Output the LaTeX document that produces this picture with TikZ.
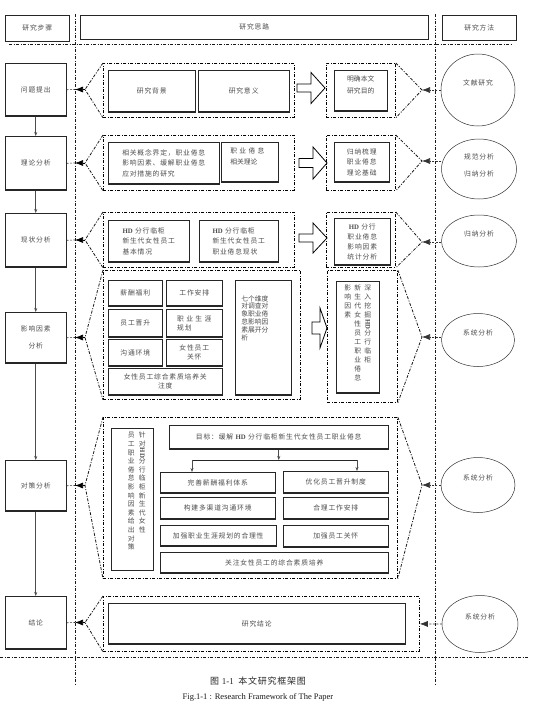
\documentclass[tikz,border=0pt]{standalone}
\usepackage{fontspec}
\usepackage{graphicx}
\setmainfont{Liberation Serif}
\newfontfamily\cjk[LetterSpace=12]{Noto Sans CJK SC}
\newfontfamily\capcjk[LetterSpace=8]{Noto Sans CJK SC}
\newfontfamily\hdfont{Liberation Serif}
\usetikzlibrary{arrows.meta}
\usetikzlibrary{shapes.geometric}
\XeTeXlinebreaklocale "zh"
\XeTeXlinebreakskip=0pt plus 1pt

\newcommand\hd{{\hdfont\bfseries HD}}
\newcommand\hdv{\rotatebox[origin=c]{-90}{\hd}}
\newcommand\vcol[1]{\parbox[t]{8pt}{\centering #1}}
\newcommand\topbox[4]{\parbox[c][#2pt][t]{#1pt}{\vspace*{#3pt}#4}}

\begin{document}
\begin{tikzpicture}[x=1pt, y=-1pt,
  font=\cjk\fontsize{6.8}{10.5}\selectfont, text=black!70,
  every node/.style={inner sep=1pt},
  wh/.style 2 args={anchor=north west, minimum width=#1, minimum height=#2},
  head/.style={draw=black!85, line width=0.6pt},
  cell/.style={draw=black!85, line width=0.5pt, path picture={
    \draw[black!85, line width=2.2pt]
      (path picture bounding box.north west) -- (path picture bounding box.north east)
      (path picture bounding box.south west) -- (path picture bounding box.south east);}},
  grp/.style={draw=black, line width=0.8pt, dash pattern=on 3pt off 1.5pt on 1pt off 1.5pt},
  sep/.style={black!90, line width=0.8pt, dash pattern=on 3pt off 1.5pt on 1pt off 1.5pt},
  method/.style={ellipse, draw=black!80, line width=0.5pt, text depth=14pt},
  tight/.style={font=\cjk\fontsize{6.8}{9}\selectfont},
  link/.style={black!80, line width=0.6pt, dash pattern=on 2pt off 1.5pt},
  tipl/.style={-{Latex[length=8pt,width=6pt]}, line width=0.6pt},
  down/.style={-{Stealth[length=4pt,width=3pt]}, black!70, line width=0.6pt},
  hollow/.style={draw=black, line width=0.8pt, fill=white}]

 \useasboundingbox (0,0) rectangle (542,704);

 % Separadores
 \draw[sep] (9,44) -- (512,44);
 \draw[sep] (75,14) -- (75,684);
 \draw[sep] (435,14) -- (435,684);
 \draw[sep] (0,657) -- (529,657);

 % Cabecera
 \node[head, wh={64}{26}] (h1) at (5,15) {研究步骤};
 \node[head, wh={348}{24}] (h2) at (80,15) {研究思路};
 \node[head, wh={74}{25}] (h3) at (442,15) {研究方法};

 % Pasos
 \node[cell, wh={61}{53}] (s1) at (5,63) {问题提出};
 \node[cell, wh={61}{54}] (s2) at (5,136) {理论分析};
 \node[cell, wh={61}{54}] (s3) at (5,213) {现状分析};
 \node[cell, wh={61}{51}, align=center, font=\cjk\fontsize{6.8}{17}\selectfont] (s4) at (5,312) {影响因素\\分析};
 \node[cell, wh={61}{51}] (s5) at (5,460) {对策分析};
 \node[cell, wh={61}{53}] (s6) at (5,596) {结论};
 \foreach \a/\b in {s1/s2, s2/s3, s3/s4, s4/s5, s5/s6}
  \draw[down] (\a) -- (\b);

 % Fila 1
 \node[grp, wh={191}{54}] (g1) at (103,63) {};
 \node[cell, wh={87}{42}] (bg) at (108,70) {研究背景};
 \node[cell, wh={91}{42}] (yy) at (198,70) {研究意\,义};
 \node[grp, wh={69}{54}] (g1r) at (326,63) {};
 \node[cell, wh={53}{41}, inner sep=0pt] (md) at (334,70) {\topbox{53}{41}{5}{\centering\baselineskip=12.8pt 明确本文\\研究目的\par}};
 \node[method, minimum width=74, minimum height=72] (e1) at (478,90) {文献研究};

 % Fila 2
 \node[grp, wh={191}{55}] (g2) at (103,135) {};
 \node[cell, wh={111}{42}, align=left] (xg) at (108,142) {相关概念界定，职业倦怠\\影响因素、缓解职业倦怠\\应对措施的研究};
 \node[cell, wh={57}{40}, inner sep=0pt] (ll) at (221,142) {\topbox{57}{40}{6}{\raggedright\leftskip=9pt 职 业 倦 怠\\相关理论\par}};
 \node[grp, wh={69}{55}] (g2r) at (326,135) {};
 \node[cell, wh={55}{40}, align=center] (gn) at (334,142) {归纳梳理\\职业倦怠\\理论基础};
 \node[method, minimum width=75, minimum height=60, align=center, text depth=8pt, font=\cjk\fontsize{6.8}{17}\selectfont] (e2) at (479,169) {规范分析\\归纳分析};

 % Fila 3
 \node[grp, wh={191}{55}] (g3) at (103,212) {};
 \node[cell, wh={81}{42}, align=left] (jb) at (108,220) {\hd{} 分行临柜\\新生代女性员工\\基本情况};
 \node[cell, wh={79}{42}, align=left] (xz) at (199,220) {\hd{} 分行临柜\\新生代女性员工\\职业倦怠现状};
 \node[grp, wh={69}{55}] (g3r) at (326,212) {};
 \node[cell, wh={56}{47}, align=center, font=\cjk\fontsize{6.8}{10}\selectfont] (tj) at (334,218) {\hd{} 分行\\职业倦怠\\影响因素\\统计分析};
 \node[method, minimum width=75, minimum height=52] (e3) at (479,241) {归纳分析};

 % Fila 4
 \node[grp, wh={197}{129}] (g4) at (103,270) {};
 \node[cell, wh={54}{26}] (xc) at (108,280) {薪酬福利};
 \node[cell, wh={56}{26}] (gz) at (166,280) {工作安排};
 \node[cell, wh={54}{28}] (js) at (108,309) {员工晋升};
 \node[cell, wh={56}{28}, align=left, tight] (sy) at (166,309) {职 业 生 涯\\规划};
 \node[cell, wh={54}{27}] (gt) at (108,339) {沟通环境};
 \node[cell, wh={56}{27}, align=center, tight] (gh) at (166,339) {女性员工\\关怀};
 \node[cell, wh={114}{27}, align=center, tight] (zh) at (108,368) {女性员工综合素质培养关\\注度};
 \node[cell, wh={56}{115}, inner sep=0pt] (qw) at (235,280) {\topbox{56}{115}{15}{\raggedright\leftskip=6pt\baselineskip=7.8pt 七个维度\\对调查对\\象职业倦\\怠影响因\\素展开分\\析\par}};
 \node[grp, wh={70}{132}] (g4r) at (327,270) {};
 \node[cell, wh={43}{112}, inner sep=0pt, font=\cjk\fontsize{6.8}{9}\selectfont] (sw) at (336,281) {\topbox{43}{112}{4}{\centering\vcol{影响因素}\hspace{2pt}\vcol{新生代女性员工职业倦怠}\hspace{2pt}\vcol{深入挖掘\\\hdv\\分行临柜}\par}};
 \node[method, minimum width=73, minimum height=53] (e4) at (478,340) {系统分析};

 % Fila 5
 \node[grp, wh={294}{161}] (g5) at (103,417) {};
 \node[head, line width=0.5pt, wh={42}{142}, inner sep=0pt, font=\cjk\fontsize{6.8}{8.6}\selectfont] (vz) at (111,428) {\topbox{42}{142}{4}{\raggedright\hspace*{16pt}\vcol{员工职业倦怠影响因素给出对策}\hspace{3pt}\vcol{针对\\\hdv\\分行临柜新生代女性}\par}};
 \node[cell, wh={219}{24}] (gl) at (169,425) {目标：缓解 \hd{} 分行临柜新生代女性员工职业倦怠};
 \coordinate (bl) at (192,460);
 \coordinate (br) at (357,460);
 \draw[line width=1pt, black!85] (bl) -- (br);
 \draw[down] (gl.south) -- (gl.south |- bl);
 \node[cell, wh={115}{21}] (ws) at (160,472) {完善薪酬福利体系};
 \node[cell, wh={105}{22}] (yh) at (283,471) {优化员工晋升制度};
 \node[cell, wh={115}{22}] (gj) at (160,497) {构建多渠道沟通环境};
 \node[cell, wh={105}{22}] (hl) at (283,497) {合理工作安排};
 \node[cell, wh={116}{21}] (zy) at (160,525) {加强职业生涯规划的合理性};
 \node[cell, wh={105}{22}] (yg) at (283,525) {加强员工关怀};
 \node[cell, wh={228}{21}] (pz) at (160,552) {关注女性员工的综合素质培养};
 \draw[down] (bl) -- (bl |- ws.north);
 \draw[down] (br) -- (br |- yh.north);
 \node[method, minimum width=74, minimum height=55] (e5) at (478,485) {系统分析};

 % Fila 6
 \node[grp, wh={316}{55}] (g6) at (103,596) {};
 \node[cell, wh={297}{41}] (jl) at (108,603) {研究结论};
 \node[method, minimum width=76, minimum height=57] (e6) at (480,624) {系统分析};

 % Flechas huecas
 \foreach \xa/\xb/\xc/\yc/\sh/\hh in {297/311/325/88/4/15.5, 299/313/327/163/4.5/16, 299/313/327/238/4/15, 312/320/327/328/6/20}
  \draw[hollow] (\xa,\yc-\sh) -- (\xb,\yc-\sh) -- (\xb,\yc-\hh) -- (\xc,\yc) -- (\xb,\yc+\hh) -- (\xb,\yc+\sh) -- (\xa,\yc+\sh) -- cycle;

 % Convergencias izquierda
 \foreach \i/\y in {1/89.5, 2/163, 3/240, 4/337.5, 5/485.5, 6/622.5} {
  \coordinate (cl\i) at (85,\y);
  \coordinate (tl\i) at (75,\y);
 }
 \foreach \i in {1,...,6} {
  \draw[sep] (g\i.north west) -- (cl\i) -- (g\i.south west);
  \draw[link] (s\i.east) -- (tl\i);
  \draw[tipl] (cl\i) -- (tl\i);
 }

 % Convergencias derecha
 \foreach \i/\g/\y in {1/g1r/90, 2/g2r/161, 3/g3r/242, 4/g4r/337, 5/g5/485} {
  \coordinate (cr\i) at (422,\y);
  \draw[sep] (\g.north east) -- (cr\i) -- (\g.south east);
 }
 \foreach \i in {1,...,5}
  \draw[link, tipl] (e\i.west |- cr\i) -- (cr\i);
 \draw[link, tipl] (e6.west) -- (g6.east);

 % Pie
 \node[font=\capcjk\fontsize{9}{11}\selectfont, text=black!85] (cap) at (258,681) {图 {\rmfamily 1-1}\enspace 本文研究框架图};
 \node[font=\rmfamily\fontsize{8.5}{10}\selectfont, text=black!90] (capen) at (258,697) {Fig.1-1 : Research Framework of The Paper};
\end{tikzpicture}
\end{document}
